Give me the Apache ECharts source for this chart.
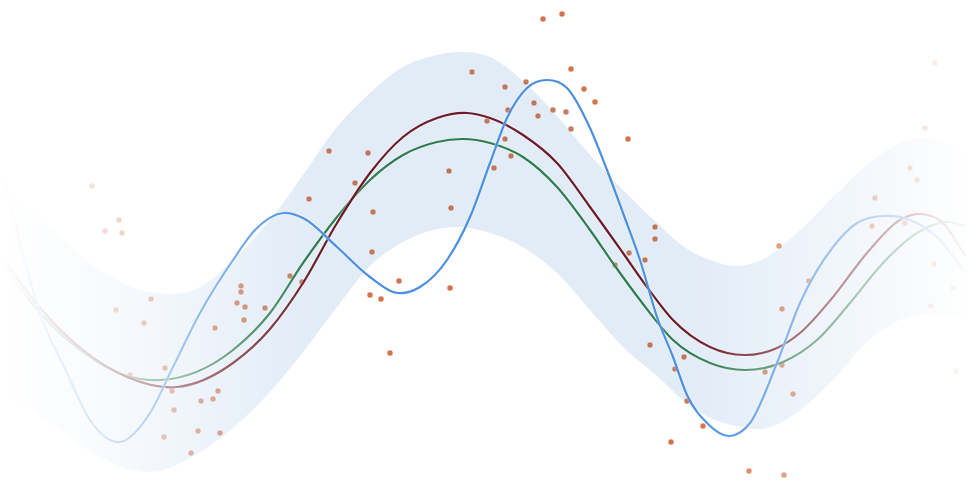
<!DOCTYPE html>
<html>
<head>
<meta charset="utf-8">
<script src="https://cdn.jsdelivr.net/npm/echarts@6/dist/echarts.min.js"></script>
<style>
html,body{margin:0;padding:0;background:#fff;}
#chart{width:980px;height:482px;}
</style>
</head>
<body>
<div id="chart"></div>
<script>
// ---- data (x and y in plot units, y grows downward) ----
const bandX     = [5, 50, 100, 150, 200, 233, 283, 303, 337, 370, 403, 437, 460, 490, 523, 557, 590, 623, 657, 683, 710, 737, 767, 800, 833, 867, 900, 923, 950, 967];
const bandUpper = [188, 227, 270, 292, 287, 260, 203, 175, 127, 93, 67, 55, 52, 57, 81, 116, 155, 190, 223, 246, 260, 266, 257, 230, 197, 165, 143, 138, 146, 158];
const bandLower = [390, 423, 457, 472, 452, 428, 377, 352, 307, 266, 242, 229, 227, 233, 247, 273, 310, 347, 376, 400, 418, 426, 428, 410, 380, 342, 320, 314, 315, 318];

const blueCurve = [[5,180],[20,243],[40,313],[67,373],[90,420],[120,442],[150,413],[173,367],[200,313],[233,260],[255,230],[283,213],[303,218],[337,247],[370,277],[398,293],[420,287],[447,260],[470,217],[490,163],[507,118],[527,88],[547,80],[567,88],[590,128],[607,170],[623,213],[640,260],[657,317],[673,357],[687,395],[707,423],[730,436],[750,423],[777,363],[800,303],[833,247],[857,223],[883,216],[910,220],[940,240],[965,272]];
const redCurve = [[5,262],[40,308],[83,350],[127,377],[177,387],[233,363],[270,329],[303,283],[337,223],[370,173],[403,137],[437,118],[467,113],[490,118],[523,135],[557,163],[590,207],[623,253],[647,287],[673,320],[710,347],[745,355],[777,348],[800,333],[833,297],[867,253],[900,220],[922,214],[943,223],[965,255]];
const greenCurve = [[5,268],[40,313],[83,352],[127,376],[160,380],[233,350],[270,313],[303,263],[337,217],[370,180],[403,155],[437,142],[463,139],[490,143],[523,157],[557,187],[590,230],[615,266],[640,300],[673,340],[710,363],[745,370],[783,362],[817,340],[850,303],[883,263],[917,233],[950,222],[965,226]];

const inlierPoints = [[151,299],[116,310],[144,323],[130,375],[165,368],[172,391],[174,410],[164,437],[191,453],[215,328],[201,401],[213,399],[218,391],[198,431],[220,433],[241,286],[241,292],[237,303],[245,307],[244,320],[265,308],[290,276],[302,282],[309,199],[329,151],[368,153],[355,183],[373,212],[372,252],[449,171],[451,208],[472,72],[505,87],[526,82],[508,110],[487,121],[534,103],[538,116],[553,110],[566,112],[571,129],[505,139],[511,156],[494,168],[655,227],[655,239],[629,253],[645,260],[615,265],[650,345],[684,357],[675,369],[687,401],[809,281],[782,309],[765,372],[782,365],[793,394],[875,198],[872,226],[905,223],[910,168],[917,180],[934,264],[953,288],[931,306]];
const outlierPoints = [[92,186],[119,220],[105,231],[122,233],[399,281],[370,295],[381,299],[390,353],[450,288],[543,19],[562,14],[571,69],[584,89],[595,102],[628,139],[703,426],[671,442],[749,471],[784,475],[779,246],[925,128],[935,63],[956,371]];

// ---- helpers: smooth (cubic Hermite in x) path through points mapped by the chart's scales ----
function slopes(p) {
  const n = p.length, m = [];
  for (let i = 0; i < n; i++) {
    if (i === 0) m.push((p[1][1] - p[0][1]) / (p[1][0] - p[0][0]));
    else if (i === n - 1) m.push((p[n - 1][1] - p[n - 2][1]) / (p[n - 1][0] - p[n - 2][0]));
    else {
      const h0 = p[i][0] - p[i - 1][0], h1 = p[i + 1][0] - p[i][0];
      const d0 = (p[i][1] - p[i - 1][1]) / h0, d1 = (p[i + 1][1] - p[i][1]) / h1;
      m.push((d0 * h1 + d1 * h0) / (h0 + h1));
    }
  }
  return m;
}
function hermiteSegments(p) {
  const m = slopes(p);
  let s = '';
  for (let i = 0; i < p.length - 1; i++) {
    const h = p[i + 1][0] - p[i][0];
    const c1x = p[i][0] + h / 3, c1y = p[i][1] + m[i] * h / 3;
    const c2x = p[i + 1][0] - h / 3, c2y = p[i + 1][1] - m[i + 1] * h / 3;
    s += ' C' + c1x + ' ' + c1y + ' ' + c2x + ' ' + c2y + ' ' + p[i + 1][0] + ' ' + p[i + 1][1];
  }
  return s;
}
function reverseSegments(p) {
  const m = slopes(p);
  let s = '';
  for (let i = p.length - 1; i > 0; i--) {
    const h = p[i][0] - p[i - 1][0];
    const c1x = p[i][0] - h / 3, c1y = p[i][1] - m[i] * h / 3;
    const c2x = p[i - 1][0] + h / 3, c2y = p[i - 1][1] + m[i - 1] * h / 3;
    s += ' C' + c1x + ' ' + c1y + ' ' + c2x + ' ' + c2y + ' ' + p[i - 1][0] + ' ' + p[i - 1][1];
  }
  return s;
}
function curveSeries(points, color) {
  return {
    type: 'custom', z: 4, silent: true, data: points,
    encode: {x: 0, y: 1},
    renderItem: function (params, api) {
      if (params.dataIndex !== 0) return {type: 'group', children: []};
      const p = points.map(d => api.coord(d));
      const d = 'M' + p[0][0] + ' ' + p[0][1] + hermiteSegments(p);
      return {type: 'path', shape: {pathData: d},
              style: {fill: 'none', stroke: color, lineWidth: 2.2, lineCap: 'round',
                      shadowColor: 'rgba(255,255,255,0.8)', shadowBlur: 2}};
    }
  };
}

const chart = echarts.init(document.getElementById('chart'), null, {renderer: 'canvas'});

const bandData = bandX.map((x, i) => [x, bandUpper[i], bandLower[i]]);

chart.setOption({
  animation: false,
  backgroundColor: '#ffffff',
  grid: {left: 0, right: 0, top: 0, bottom: 0},
  xAxis: {type: 'value', min: 0, max: 980, show: false},
  yAxis: {type: 'value', min: 0, max: 482, inverse: true, show: false},
  series: [
    {type: 'custom', z: 2, silent: true, data: bandData,
     encode: {x: 0, y: [1, 2]},
     renderItem: function (params, api) {
       if (params.dataIndex !== 0) return {type: 'group', children: []};
       const up = bandX.map((x, i) => api.coord([x, bandUpper[i]]));
       const lo = bandX.map((x, i) => api.coord([x, bandLower[i]]));
       const d = 'M' + up[0][0] + ' ' + up[0][1] + hermiteSegments(up) +
                 ' L' + lo[lo.length - 1][0] + ' ' + lo[lo.length - 1][1] + reverseSegments(lo) + ' Z';
       return {type: 'path', shape: {pathData: d},
               style: {fill: 'rgba(74,134,206,0.16)', stroke: 'none'}};
     }},
    {type: 'scatter', data: inlierPoints, symbolSize: 6, z: 3,
     itemStyle: {color: '#b55a37', borderColor: 'rgba(255,255,255,0.7)', borderWidth: 0.8}},
    {type: 'scatter', data: outlierPoints, symbolSize: 6, z: 3,
     itemStyle: {color: '#cc4f1e', borderColor: 'rgba(255,255,255,0.7)', borderWidth: 0.8}},
    curveSeries(greenCurve, '#2f7d4e'),
    curveSeries(redCurve, '#6c1b27'),
    curveSeries(blueCurve, '#4a8fe0')
  ],
  graphic: [
    {type: 'rect', left: 0, top: 0, z: 100, silent: true,
     shape: {width: 320, height: 482},
     style: {fill: new echarts.graphic.LinearGradient(0, 0, 1, 0, [
       {offset: 0, color: 'rgba(255,255,255,1)'},
       {offset: 0.1, color: 'rgba(255,255,255,0.93)'},
       {offset: 0.29, color: 'rgba(255,255,255,0.8)'},
       {offset: 0.52, color: 'rgba(255,255,255,0.55)'},
       {offset: 0.75, color: 'rgba(255,255,255,0.25)'},
       {offset: 0.94, color: 'rgba(255,255,255,0.04)'},
       {offset: 1, color: 'rgba(255,255,255,0)'}
     ])}},
    {type: 'rect', left: 690, top: 0, z: 100, silent: true,
     shape: {width: 290, height: 482},
     style: {fill: new echarts.graphic.LinearGradient(0, 0, 1, 0, [
       {offset: 0, color: 'rgba(255,255,255,0)'},
       {offset: 0.3, color: 'rgba(255,255,255,0.3)'},
       {offset: 0.65, color: 'rgba(255,255,255,0.65)'},
       {offset: 0.85, color: 'rgba(255,255,255,0.88)'},
       {offset: 1, color: 'rgba(255,255,255,0.98)'}
     ])}}
  ]
});
</script>
</body>
</html>
